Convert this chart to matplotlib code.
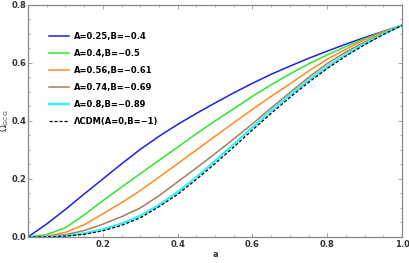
import numpy as np
import matplotlib
matplotlib.use("Agg")
import matplotlib.pyplot as plt
from matplotlib.ticker import MultipleLocator

# scale factor a
a = [0.0, 0.05, 0.1, 0.15, 0.2, 0.25, 0.3, 0.35, 0.4, 0.45, 0.5,
     0.55, 0.6, 0.65, 0.7, 0.75, 0.8, 0.85, 0.9, 0.95, 1.0]

om_blue = [0.0, 0.045, 0.095, 0.148, 0.2, 0.252, 0.302, 0.347, 0.388, 0.426, 0.462,
           0.497, 0.53, 0.561, 0.589, 0.616, 0.641, 0.665, 0.688, 0.709, 0.73]
om_green = [0.0, 0.008, 0.032, 0.076, 0.125, 0.172, 0.218, 0.264, 0.31, 0.356, 0.4,
            0.442, 0.485, 0.525, 0.562, 0.597, 0.628, 0.657, 0.684, 0.708, 0.73]
om_orange = [0.0, 0.003, 0.016, 0.042, 0.08, 0.118, 0.16, 0.206, 0.253, 0.3, 0.347,
             0.394, 0.44, 0.485, 0.528, 0.572, 0.613, 0.648, 0.68, 0.706, 0.73]
om_brown = [0.0, 0.001, 0.008, 0.022, 0.044, 0.07, 0.1, 0.142, 0.19, 0.238, 0.287,
            0.338, 0.39, 0.445, 0.498, 0.55, 0.598, 0.638, 0.672, 0.702, 0.73]
om_cyan = [0.0, 0.0004, 0.004, 0.012, 0.026, 0.046, 0.073, 0.11, 0.155, 0.206, 0.262,
           0.32, 0.378, 0.435, 0.489, 0.54, 0.587, 0.629, 0.667, 0.7, 0.73]
om_lcdm = [0.0, 0.0003, 0.003, 0.009, 0.021, 0.04, 0.066, 0.104, 0.147, 0.198, 0.253,
           0.31, 0.369, 0.426, 0.481, 0.533, 0.581, 0.624, 0.663, 0.698, 0.73]

labels = ["A=0.25,B=\u22120.4", "A=0.4,B=\u22120.5", "A=0.56,B=\u22120.61",
          "A=0.74,B=\u22120.69", "A=0.8,B=\u22120.89", "\u039bCDM(A=0,B=\u22121)"]
xticks = [0.2, 0.4, 0.6, 0.8, 1.0]
yticks = [0.0, 0.2, 0.4, 0.6, 0.8]

fig = plt.figure(figsize=(4.09, 2.63), dpi=100)
ax = fig.add_axes([0.0685, 0.099, 0.9145, 0.882])

ax.plot(a, om_blue, color="#1f1fe6", lw=1.1, label=labels[0])
ax.plot(a, om_green, color="#2ee62e", lw=1.1, label=labels[1])
ax.plot(a, om_orange, color="#ff8c1f", lw=1.1, label=labels[2])
ax.plot(a, om_brown, color="#a67c5a", lw=1.1, label=labels[3])
ax.plot(a, om_cyan, color="#33f0ff", lw=1.7, label=labels[4])
ax.plot(a, om_lcdm, color="black", lw=0.9, ls=(0, (2.5, 1.5)), label=labels[5])

ax.set_xlim(0, 1)
ax.set_ylim(0, 0.8)
ax.set_xticks(xticks)
ax.set_xticklabels(["%.1f" % v for v in xticks])
ax.set_yticks(yticks)
ax.set_yticklabels(["%.1f" % v for v in yticks])
ax.xaxis.set_minor_locator(MultipleLocator(0.05))
ax.yaxis.set_minor_locator(MultipleLocator(0.05))
ax.tick_params(which="both", direction="in", top=True, right=True, color="#999999",
               labelsize=6, pad=2)
ax.tick_params(axis="y", pad=1)
ax.tick_params(which="major", length=3, width=0.6)
ax.tick_params(which="minor", length=1.5, width=0.5)
for t in ax.get_xticklabels() + ax.get_yticklabels():
    t.set_fontweight("bold")
    t.set_color("#333333")
for s in ax.spines.values():
    s.set_color("#888888")
    s.set_linewidth(0.9)

ax.set_xlabel("a", fontsize=6, fontweight="bold", color="#333333")
ax.xaxis.set_label_coords(0.5, -0.055)
ax.set_ylabel("$\\Omega_{\\mathregular{GCG}}$", fontsize=6.5, color="#333333")
ax.yaxis.set_label_coords(-0.045, 0.5)

leg = ax.legend(loc="upper left", bbox_to_anchor=(0.035, 0.915), frameon=False,
                fontsize=6, handlelength=2.4, handletextpad=0.6, labelspacing=0.95)
for t in leg.get_texts():
    t.set_fontweight("bold")

fig.savefig("out.png", dpi=100)
